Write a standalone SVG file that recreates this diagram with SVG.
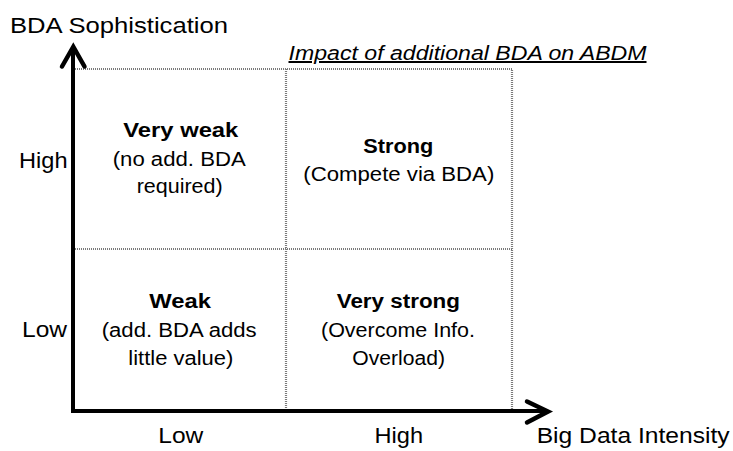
<svg xmlns="http://www.w3.org/2000/svg" width="733" height="451" viewBox="0 0 733 451">
<style>
text{font-family:"Liberation Sans",Arial,sans-serif;fill:#000}
.ax{font-size:22px}
.c{font-size:20px}
.b{font-size:20px;font-weight:bold}
.t{font-size:20px;font-style:italic;text-decoration:underline}
.grid{stroke:#7a7a7a;stroke-width:2.2;stroke-dasharray:1 1;fill:none}
.axis{stroke:#000;stroke-width:4;fill:none;stroke-linejoin:miter}
.head{stroke:#000;stroke-width:4.5;fill:none;stroke-linecap:round;stroke-linejoin:miter}
</style>
<rect width="733" height="451" fill="#fff"/>
<g id="grid">
<path class="grid" d="M73,69 H512 V411 M286,69 V411 M73,249 H512"/>
</g>
<g id="connectors">
<path class="axis" d="M73,48 V411 H546"/>
<path class="head" d="M62,66.5 L73.3,46.7 L84.5,66.5"/>
<path class="head" d="M527,401.5 L548,411.5 L527,422.5"/>
</g>
<g id="title">
<text class="t" x="288.5" y="60" textLength="358" lengthAdjust="spacingAndGlyphs">Impact of additional BDA on ABDM</text>
</g>
<g id="y-axis-label">
<text class="ax" x="10" y="33" textLength="218" lengthAdjust="spacingAndGlyphs">BDA Sophistication</text>
<text class="ax" x="19" y="167.5" textLength="48.5" lengthAdjust="spacingAndGlyphs">High</text>
<text class="ax" x="22" y="337" textLength="45" lengthAdjust="spacingAndGlyphs">Low</text>
</g>
<g id="x-axis-label">
<text class="ax" x="158.3" y="442.7" textLength="45" lengthAdjust="spacingAndGlyphs">Low</text>
<text class="ax" x="374.5" y="442.7" textLength="48.5" lengthAdjust="spacingAndGlyphs">High</text>
<text class="ax" x="536.7" y="443.3" textLength="193" lengthAdjust="spacingAndGlyphs">Big Data Intensity</text>
</g>
<g id="q-very-weak">
<text class="b" x="123.3" y="137" textLength="115" lengthAdjust="spacingAndGlyphs">Very weak</text>
<text class="c" x="112.7" y="166" textLength="133" lengthAdjust="spacingAndGlyphs">(no add. BDA</text>
<text class="c" x="136.7" y="193" textLength="86" lengthAdjust="spacingAndGlyphs">required)</text>
</g>
<g id="q-strong">
<text class="b" x="363.3" y="153" textLength="70" lengthAdjust="spacingAndGlyphs">Strong</text>
<text class="c" x="303.3" y="181" textLength="191" lengthAdjust="spacingAndGlyphs">(Compete via BDA)</text>
</g>
<g id="q-weak">
<text class="b" x="149.3" y="308" textLength="61.7" lengthAdjust="spacingAndGlyphs">Weak</text>
<text class="c" x="101.7" y="337" textLength="155" lengthAdjust="spacingAndGlyphs">(add. BDA adds</text>
<text class="c" x="128.3" y="365" textLength="105" lengthAdjust="spacingAndGlyphs">little value)</text>
</g>
<g id="q-very-strong">
<text class="b" x="336.7" y="308" textLength="123.3" lengthAdjust="spacingAndGlyphs">Very strong</text>
<text class="c" x="321" y="337" textLength="154" lengthAdjust="spacingAndGlyphs">(Overcome Info.</text>
<text class="c" x="352.3" y="365" textLength="92.7" lengthAdjust="spacingAndGlyphs">Overload)</text>
</g>
</svg>
